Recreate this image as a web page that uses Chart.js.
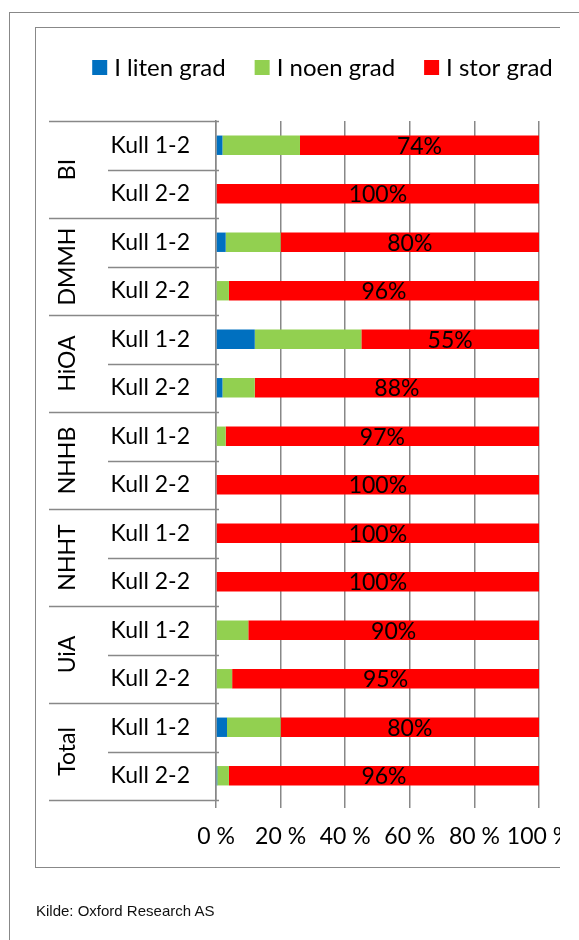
<!DOCTYPE html>
<html><head><meta charset="utf-8">
<script src="https://cdn.jsdelivr.net/npm/chart.js@4.4.1/dist/chart.umd.min.js"></script>
<style>
html,body{margin:0;padding:0;background:#fff;width:579px;height:940px;overflow:hidden;}
#outer{position:absolute;left:9px;top:12px;width:620px;height:980px;border:1px solid #888;box-sizing:border-box}
#clip{position:absolute;left:0;top:0;width:560px;height:940px;overflow:hidden}
#inner{position:absolute;left:35px;top:27px;width:620px;height:841px;border:1px solid #888;box-sizing:border-box}
#c{position:absolute;left:0;top:0}
#src{position:absolute;left:36px;top:902px;font:15px "Liberation Sans",Arial,sans-serif;color:#111;white-space:nowrap}
</style></head>
<body>
<div id="outer"></div>
<div id="clip"><div id="inner"></div><canvas id="c" width="640" height="940"></canvas></div>
<div id="src">Kilde: Oxford Research AS</div>
<script>
// Institutions and cohorts (two cohorts per institution, top to bottom)
const groups = ['BI', 'DMMH', 'HiOA', 'NHHB', 'NHHT', 'UiA', 'Total'];
const cohorts = ['Kull 1-2', 'Kull 2-2'];
const seriesNames = ['I liten grad', 'I noen grad', 'I stor grad'];
const seriesColors = ['#0070C0', '#92D050', '#FF0000'];
// Shares in percent, one entry per row
const litenGrad = [2, 0, 3, 0, 12, 2, 0, 0, 0, 0, 0, 0, 3.4, 0.4];
const noenGrad  = [24, 0, 17, 4, 33, 10, 3, 0, 0, 0, 10, 5, 16.6, 3.6];
const storGrad  = [74, 100, 80, 96, 55, 88, 97, 100, 100, 100, 90, 95, 80, 96];
const xTicks = [0, 20, 40, 60, 80, 100];

const FONT = 'Lato';
const FS = 23;
const LEGEND_FS = 24;
const LINE = '#888';

const rowKeys = [];
groups.forEach(g => cohorts.forEach(k => rowKeys.push(g + '|' + k)));

const overlay = {
  id: 'overlay',
  afterDatasetsDraw(chart) {
    const ctx = chart.ctx;
    const meta = chart.getDatasetMeta(2);
    ctx.save();
    ctx.fillStyle = '#000';
    ctx.font = FS + 'px ' + FONT;
    ctx.textAlign = 'center';
    ctx.textBaseline = 'middle';
    meta.data.forEach((el, i) => {
      const v = storGrad[i];
      if (!v) return;
      ctx.fillText(Math.round(v) + '%', (el.x + el.base) / 2, el.y + 1);
    });
    ctx.restore();
  },
  afterDraw(chart) {
    const {ctx, chartArea, scales: {y}} = chart;
    const n = rowKeys.length;
    const per = cohorts.length;
    const bound = i => i === 0 ? chartArea.top : i === n ? chartArea.bottom
      : (y.getPixelForValue(i - 1) + y.getPixelForValue(i)) / 2;
    ctx.save();
    ctx.strokeStyle = LINE;
    ctx.lineWidth = 1.5;
    for (let i = 0; i <= n; i++) {
      const yy = Math.round(bound(i)) + 0.5;
      const x0 = i % per === 0 ? 49 : 108;
      ctx.beginPath();
      ctx.moveTo(x0, yy);
      ctx.lineTo(chartArea.left + 3, yy);
      ctx.stroke();
    }
    // group names, rotated
    ctx.fillStyle = '#000';
    ctx.font = FS + 'px ' + FONT;
    ctx.textAlign = 'center';
    ctx.textBaseline = 'middle';
    groups.forEach((g, gi) => {
      const cy = (bound(gi * per) + bound(gi * per + per)) / 2;
      ctx.save();
      ctx.translate(68, cy);
      ctx.rotate(-Math.PI / 2);
      ctx.fillText(g, 0, 0);
      ctx.restore();
    });
    // legend
    const box = 15, gapText = 7, gapItem = 29;
    ctx.font = LEGEND_FS + 'px ' + FONT;
    ctx.textAlign = 'left';
    const widths = seriesNames.map(s => ctx.measureText(s).width);
    const total = widths.reduce((a, w) => a + box + gapText + w, 0) + gapItem * (seriesNames.length - 1);
    let x = 322.5 - total / 2;
    const ly = 67.5;
    seriesNames.forEach((s, i) => {
      ctx.fillStyle = seriesColors[i];
      ctx.fillRect(x, ly - box / 2, box, box);
      ctx.fillStyle = '#000';
      ctx.fillText(s, x + box + gapText, ly + 1);
      x += box + gapText + widths[i] + gapItem;
    });
    ctx.restore();
  }
};

function build() {
  new Chart(document.getElementById('c'), {
    type: 'bar',
    data: {
      labels: rowKeys,
      datasets: [litenGrad, noenGrad, storGrad].map((d, i) => ({
        label: seriesNames[i],
        data: d,
        backgroundColor: seriesColors[i],
        borderWidth: 0,
        barPercentage: 0.4,
        categoryPercentage: 1
      }))
    },
    options: {
      indexAxis: 'y',
      responsive: false,
      animation: false,
      devicePixelRatio: 1,
      layout: {padding: {left: 0, top: 121, right: 101, bottom: 0}},
      plugins: {legend: {display: false}, tooltip: {enabled: false}, title: {display: false}},
      scales: {
        x: {
          stacked: true,
          min: 0, max: 100,
          afterBuildTicks: s => { s.ticks = xTicks.map(v => ({value: v})); },
          afterFit: s => { s.height = 140; },
          grid: {color: LINE, lineWidth: 1.5, tickLength: 8, drawTicks: true},
          border: {display: false},
          ticks: {
            autoSkip: false, maxRotation: 0,
            color: '#000', font: {family: FONT, size: FS}, padding: 15,
            callback: v => v + ' %'
          }
        },
        y: {
          stacked: true,
          afterFit: s => { s.width = 216; },
          grid: {display: false, drawTicks: false},
          border: {display: true, color: LINE, width: 1.5},
          ticks: {
            autoSkip: false,
            color: '#000', font: {family: FONT, size: FS}, padding: 26,
            callback: (v, i) => rowKeys[i].split('|')[1]
          }
        }
      }
    },
    plugins: [overlay]
  });
}
(document.fonts ? document.fonts.load(FS + 'px ' + FONT) : Promise.resolve()).then(build, build);
</script>
</body></html>
